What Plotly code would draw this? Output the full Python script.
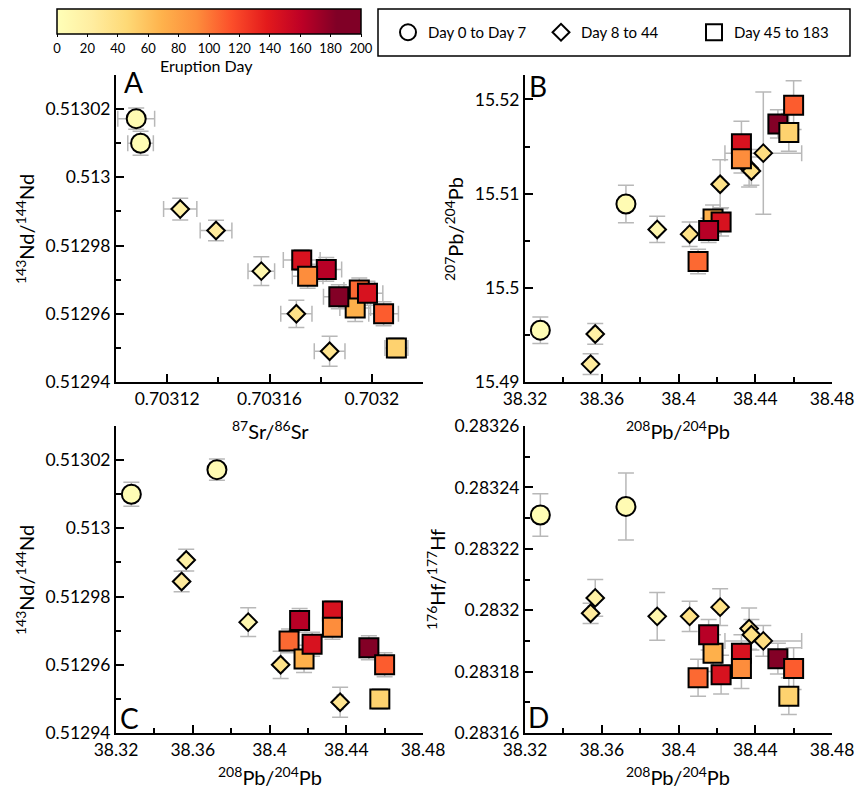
import plotly.graph_objects as go

# ---------------- data (one entry per sample) ----------------
GROUP = ['c', 'c', 'd', 'd', 'd', 'd', 'd', 'd', 'd', 'd',
         's', 's', 's', 's', 's', 's', 's', 's', 's']
DAY = [3, 5, 18, 25, 10, 36, 36, 32, 38, 40,
       105, 70, 145, 163, 145, 92, 183, 50, 110]

PB208 = [38.3280, 38.3726, 38.3566, 38.3542, 38.3889, 38.4058, 38.4217, 38.4368, 38.4380, 38.4442,
         38.4102, 38.4180, 38.4222, 38.4157, 38.4328, 38.4328, 38.4518, 38.4575, 38.4600]
PB208_ERR = [0.0015, 0.0015, 0.0012, 0.0012, 0.0012, 0.0012, 0.0012, 0.0015, 0.0015, 0.0200,
             0.0015, 0.0015, 0.0015, 0.0015, 0.0015, 0.0015, 0.0015, 0.0015, 0.0030]

PB207 = [15.4955, 15.5089, 15.4951, 15.4919, 15.5062, 15.5057, 15.5110, 15.5127, 15.5124, 15.5143,
         15.5028, 15.5073, 15.5070, 15.5061, 15.5153, 15.5137, 15.5174, 15.5165, 15.5194]
PB207_ERR = [0.0014, 0.0020, 0.0011, 0.0011, 0.0014, 0.0013, 0.0026, 0.0020, 0.0015, 0.0065,
             0.0013, 0.0015, 0.0015, 0.0013, 0.0024, 0.0015, 0.0015, 0.0020, 0.0026]

ND = [0.513010, 0.5130172, 0.5129907, 0.5129844, 0.5129725, 0.5129600, None, 0.5129490, None, None,
      0.5129670, 0.5129617, 0.5129660, 0.5129730, 0.5129758, 0.5129710, 0.5129650, 0.5129500, 0.5129600]
ND_ERR = [0.0000035, 0.0000031, 0.0000032, 0.0000030, 0.0000042, 0.0000040, None, 0.0000044, None, None,
          0.0000035, 0.0000040, 0.0000035, 0.0000035, 0.0000030, 0.0000035, 0.0000035, 0.0000030, 0.0000035]

SR = [0.7031096, 0.7031079, 0.7031251, 0.7031391, 0.7031568, 0.7031705, None, 0.7031835, None, None,
      0.7031951, 0.7031935, 0.7031983, 0.7031822, 0.7031726, 0.7031749, 0.7031871, 0.7032096, 0.7032046]
SR_ERR = [0.0000050, 0.0000072, 0.0000065, 0.0000062, 0.0000052, 0.0000061, None, 0.0000060, None, None,
          0.0000060, 0.0000060, 0.0000060, 0.0000060, 0.0000072, 0.0000060, 0.0000060, 0.0000045, 0.0000058]

HF = [0.2832310, 0.2832338, 0.2832040, 0.2831990, 0.2831980, 0.2831980, 0.2832010, 0.2831940, 0.2831920, 0.2831900,
      0.2831780, 0.2831860, 0.2831790, 0.2831920, 0.2831860, 0.2831810, 0.2831842, 0.2831720, 0.2831810]
HF_ERR = [0.0000069, 0.0000109, 0.0000060, 0.0000033, 0.0000078, 0.0000049, 0.0000060, 0.0000067, 0.0000050, 0.0000050,
          0.0000060, 0.0000060, 0.0000063, 0.0000050, 0.0000060, 0.0000065, 0.0000050, 0.0000060, 0.0000068]

LEGEND_LABELS = {'c': 'Day 0 to Day 7', 'd': 'Day 8 to 44', 's': 'Day 45 to 183'}

SR_TICKS = [0.70312, 0.70316, 0.7032]
SR_TICKTEXT = ['0.70312', '0.70316', '0.7032']
PB_TICKS = [38.32, 38.36, 38.40, 38.44, 38.48]
PB_TICKTEXT = ['38.32', '38.36', '38.4', '38.44', '38.48']
ND_TICKS = [0.51294, 0.51296, 0.51298, 0.51300, 0.51302]
ND_TICKTEXT = ['0.51294', '0.51296', '0.51298', '0.513', '0.51302']
PB207_TICKS = [15.49, 15.50, 15.51, 15.52]
PB207_TICKTEXT = ['15.49', '15.5', '15.51', '15.52']
HF_TICKS = [0.28316, 0.28318, 0.28320, 0.28322, 0.28324, 0.28326]
HF_TICKTEXT = ['0.28316', '0.28318', '0.2832', '0.28322', '0.28324', '0.28326']
CB_TICKS = list(range(0, 201, 20))

# ---------------- styling ----------------
FONT = 'Lato'
W, H = 860, 790
YLORRD = ['#ffffb8', '#ffeda0', '#fed976', '#feb24c', '#fd8d3c',
          '#fc4e2a', '#e31a1c', '#bd0026', '#800026']
SCALE = [[i / 8 * 0.92, c] for i, c in enumerate(YLORRD)] + [[1.0, '#800026']]
SYMBOL = {'c': 'circle', 'd': 'diamond', 's': 'square'}
SIZE = {'c': 19, 'd': 13.5, 's': 19}
ERR_COLOR = '#b8b8b8'

# plot areas in pixels (left, right, top, bottom)
BOX = {
    1: (116, 423, 75, 382),
    2: (525, 832, 75, 382),
    3: (116, 423, 426, 733),
    4: (525, 832, 426, 733),
}


def dom_x(b):
    return [b[0] / W, b[1] / W]


def dom_y(b):
    return [1 - b[3] / H, 1 - b[2] / H]


fig = go.Figure()


def add_panel(n, xs, xe, ys, ye, showscale=False):
    idx = [i for i in range(len(GROUP)) if xs[i] is not None and ys[i] is not None]
    suffix = '' if n == 1 else str(n)
    marker = dict(
        symbol=[SYMBOL[GROUP[i]] for i in idx],
        size=[SIZE[GROUP[i]] for i in idx],
        color=[DAY[i] for i in idx],
        colorscale=SCALE, cmin=0, cmax=200,
        line=dict(color='black', width=2),
        opacity=1,
        showscale=showscale,
    )
    if showscale:
        marker['colorbar'] = dict(
            orientation='h', xref='paper', yref='paper',
            x=57 / W, xanchor='left', y=1 - 9 / H, yanchor='top',
            len=304, lenmode='pixels', thickness=25, thicknessmode='pixels',
            xpad=0, ypad=0, outlinewidth=1.5, outlinecolor='black',
            tickmode='array', tickvals=CB_TICKS,
            ticks='outside', ticklen=3, tickwidth=1, tickcolor='black',
            tickfont=dict(size=13, family=FONT, color='black'),
        )
    fig.add_trace(go.Scatter(
        x=[xs[i] for i in idx], y=[ys[i] for i in idx],
        mode='markers', marker=marker, showlegend=False,
        error_x=dict(type='data', array=[xe[i] for i in idx], color=ERR_COLOR,
                     thickness=1.5, width=8),
        error_y=dict(type='data', array=[ye[i] for i in idx], color=ERR_COLOR,
                     thickness=1.5, width=8),
        xaxis='x' + suffix, yaxis='y' + suffix,
    ))


add_panel(1, SR, SR_ERR, ND, ND_ERR, showscale=True)
add_panel(2, PB208, PB208_ERR, PB207, PB207_ERR)
add_panel(3, PB208, PB208_ERR, ND, ND_ERR)
add_panel(4, PB208, PB208_ERR, HF, HF_ERR)

# legend entries
for g in ['c', 'd', 's']:
    fig.add_trace(go.Scatter(
        x=[None], y=[None], mode='markers', name=LEGEND_LABELS[g],
        marker=dict(symbol=SYMBOL[g], size=16 if g != 'd' else 13, color='white',
                    line=dict(color='black', width=2)),
        showlegend=True,
    ))


def axis(b, horizontal, rng, tv, tt, minor_dtick, minor_tick0):
    d = dict(
        domain=dom_x(b) if horizontal else dom_y(b),
        range=rng, tickmode='array', tickvals=tv, ticktext=tt,
        ticks='inside', ticklen=8, tickwidth=1.5, tickcolor='black',
        showline=True, linewidth=2, linecolor='black',
        showgrid=False, zeroline=False, automargin=False,
        minor=dict(ticks='inside', ticklen=5, tickwidth=1.5, tickcolor='black',
                   dtick=minor_dtick, tick0=minor_tick0, showgrid=False),
        tickfont=dict(size=17.5, family=FONT, color='black'),
    )
    return d


eps = 1e-9
layout_axes = {
    'xaxis': axis(BOX[1], True, [0.7031 - eps, 0.70322 + eps], SR_TICKS, SR_TICKTEXT, 0.00002, 0.7031),
    'yaxis': axis(BOX[1], False, [0.51294 - eps, 0.51303], ND_TICKS, ND_TICKTEXT, 0.00001, 0.51294),
    'xaxis2': axis(BOX[2], True, [38.32 - 1e-6, 38.48 + 1e-6], PB_TICKS, PB_TICKTEXT, 0.02, 38.32),
    'yaxis2': axis(BOX[2], False, [15.49 - 1e-6, 15.5226], PB207_TICKS, PB207_TICKTEXT, 0.005, 15.49),
    'xaxis3': axis(BOX[3], True, [38.32 - 1e-6, 38.48 + 1e-6], PB_TICKS, PB_TICKTEXT, 0.02, 38.32),
    'yaxis3': axis(BOX[3], False, [0.51294 - eps, 0.51303], ND_TICKS, ND_TICKTEXT, 0.00001, 0.51294),
    'xaxis4': axis(BOX[4], True, [38.32 - 1e-6, 38.48 + 1e-6], PB_TICKS, PB_TICKTEXT, 0.02, 38.32),
    'yaxis4': axis(BOX[4], False, [0.28316 - eps, 0.28326 + eps], HF_TICKS, HF_TICKTEXT, 0.00001, 0.28316),
}
for k in ['xaxis', 'xaxis2', 'xaxis3', 'xaxis4']:
    n = k[5:] or ''
    layout_axes[k]['anchor'] = 'y' + n
for k in ['yaxis', 'yaxis2', 'yaxis3', 'yaxis4']:
    n = k[5:] or ''
    layout_axes[k]['anchor'] = 'x' + n

annotations = []


def px_ann(text, x, y, size, angle=0):
    annotations.append(dict(
        text=text, x=x / W, y=1 - y / H, xref='paper', yref='paper',
        xanchor='center', yanchor='middle', showarrow=False, textangle=angle,
        font=dict(size=size, family=FONT, color='black'),
    ))


ND_TITLE = '<sup>143</sup>Nd/<sup>144</sup>Nd'
PB208_TITLE = '<sup>208</sup>Pb/<sup>204</sup>Pb'
px_ann('Eruption Day', 206, 65, 16)
px_ann('<sup>87</sup>Sr/<sup>86</sup>Sr', 270, 430, 20)
px_ann(PB208_TITLE, 678, 430, 20)
px_ann(PB208_TITLE, 270, 776, 20)
px_ann(PB208_TITLE, 678, 776, 20)
px_ann(ND_TITLE, 25, 229, 20, -90)
px_ann('<sup>207</sup>Pb/<sup>204</sup>Pb', 454, 229, 20, -90)
px_ann(ND_TITLE, 25, 580, 20, -90)
px_ann('<sup>176</sup>Hf/<sup>177</sup>Hf', 436, 580, 20, -90)
px_ann('A', 133, 82, 28)
px_ann('B', 538, 86, 28)
px_ann('C', 129, 718, 28)
px_ann('D', 538, 717, 28)

# legend frame
shapes = [dict(type='rect', xref='paper', yref='paper',
               x0=378 / W, x1=850 / W, y0=1 - 56 / H, y1=1 - 9 / H,
               line=dict(color='black', width=1.5), fillcolor='rgba(0,0,0,0)')]

fig.update_layout(
    width=W, height=H,
    margin=dict(l=0, r=0, t=0, b=0, autoexpand=False),
    paper_bgcolor='white', plot_bgcolor='white',
    font=dict(family=FONT, color='black'),
    showlegend=True,
    legend=dict(orientation='h', xref='paper', yref='paper',
                x=388 / W, y=1 - 32.5 / H, xanchor='left', yanchor='middle',
                borderwidth=0, bgcolor='rgba(0,0,0,0)',
                entrywidth=108, entrywidthmode='pixels',
                font=dict(size=15, family=FONT, color='black'),
                itemsizing='trace'),
    annotations=annotations,
    shapes=shapes,
    **layout_axes,
)

fig.write_html('out.html')
